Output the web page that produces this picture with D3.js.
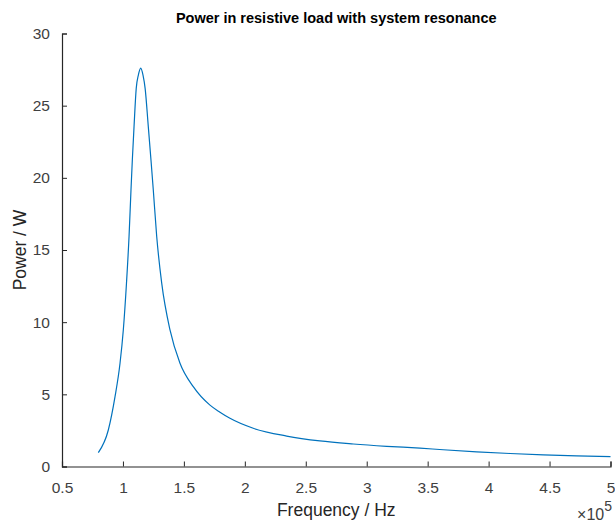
<!DOCTYPE html>
<html>
<head>
<meta charset="utf-8">
<script src="https://cdn.jsdelivr.net/npm/d3@7"></script>
<style>
  body { margin: 0; background: #fff; }
  text { font-family: "Liberation Sans", Arial, Helvetica, sans-serif; }
</style>
</head>
<body>
<div id="chart"></div>
<script>
// Data (frequency in Hz, power in W)
const freq = [79800, 88000, 93500, 97600, 100300, 102900, 105000, 106600, 107700, 109100,
  110900, 112600, 114600, 116500, 118200, 120800, 123000, 124900, 127700, 131800, 138600,
  146800, 157700, 171400, 179600, 187800, 206900, 234300, 261600, 289000, 316400, 343700,
  362800, 390200, 417500, 444900, 472200, 500000];
const power = [0.96, 2.53, 4.84, 7.15, 9.46, 12.7, 15.93, 19.16, 21.24, 23.55,
  26.2, 27.1, 27.6, 27.1, 26.2, 23.55, 21.24, 19.16, 15.93, 12.7, 9.46,
  7.15, 5.53, 4.25, 3.76, 3.34, 2.65, 2.11, 1.77, 1.56, 1.40, 1.27,
  1.16, 1.02, 0.9, 0.8, 0.73, 0.68];
const xTicks = [50000, 100000, 150000, 200000, 250000, 300000, 350000, 400000, 450000, 500000];
const yTicks = [0, 5, 10, 15, 20, 25, 30];

const W = 615, H = 524;
const margin = { top: 33.5, right: 4.5, bottom: 57.5, left: 62 };
const width = W - margin.left - margin.right;
const height = H - margin.top - margin.bottom;
const axisColor = "#262626";

const svg = d3.select("#chart").append("svg").attr("width", W).attr("height", H);
const chart = svg.append("g").attr("transform", `translate(${margin.left},${margin.top})`);

const x = d3.scaleLinear().domain([50000, 500000]).range([0, width]);
const y = d3.scaleLinear().domain([0, 30]).range([height, 0]);

const line = d3.line()
  .x((d, i) => x(freq[i]))
  .y(d => y(d))
  .curve(d3.curveMonotoneX);

chart.append("path")
  .datum(power)
  .attr("fill", "none")
  .attr("stroke", "#0072BD")
  .attr("stroke-width", 1.2)
  .attr("d", line);

// X axis (ticks pointing inward like MATLAB)
const xAxis = chart.append("g")
  .attr("transform", `translate(0,${height})`)
  .call(d3.axisBottom(x).tickValues(xTicks).tickSize(-5).tickPadding(15)
    .tickFormat(d => d3.format("~g")(d / 1e5)));

// Y axis
const yAxis = chart.append("g")
  .call(d3.axisLeft(y).tickValues(yTicks).tickSize(-5).tickPadding(12)
    .tickFormat(d3.format("d")));

[xAxis, yAxis].forEach(a => {
  a.select(".domain").attr("stroke", axisColor).attr("stroke-width", 1.2);
  a.selectAll(".tick line").attr("stroke", axisColor);
  a.selectAll(".tick text").attr("fill", "#404040").style("font-size", "15.5px")
    .style("font-family", "'Liberation Sans', Arial, sans-serif");
});

// Title
svg.append("text")
  .attr("x", margin.left + width / 2)
  .attr("y", 23)
  .attr("text-anchor", "middle")
  .style("font-size", "14.5px")
  .style("font-weight", "bold")
  .attr("fill", "#000")
  .text("Power in resistive load with system resonance");

// Axis labels
svg.append("text")
  .attr("x", margin.left + width / 2)
  .attr("y", 516)
  .attr("text-anchor", "middle")
  .style("font-size", "17.5px")
  .attr("fill", "#262626")
  .text("Frequency / Hz");

svg.append("text")
  .attr("transform", `translate(26,${margin.top + height / 2}) rotate(-90)`)
  .attr("text-anchor", "middle")
  .style("font-size", "17.5px")
  .attr("fill", "#262626")
  .text("Power / W");

// Exponent label
const expo = svg.append("text")
  .attr("x", 612)
  .attr("y", 520)
  .attr("text-anchor", "end")
  .style("font-size", "16px")
  .attr("fill", "#404040");
expo.append("tspan").text("\u00d710");
expo.append("tspan").attr("dy", -9).style("font-size", "14px").text("5");
</script>
</body>
</html>
